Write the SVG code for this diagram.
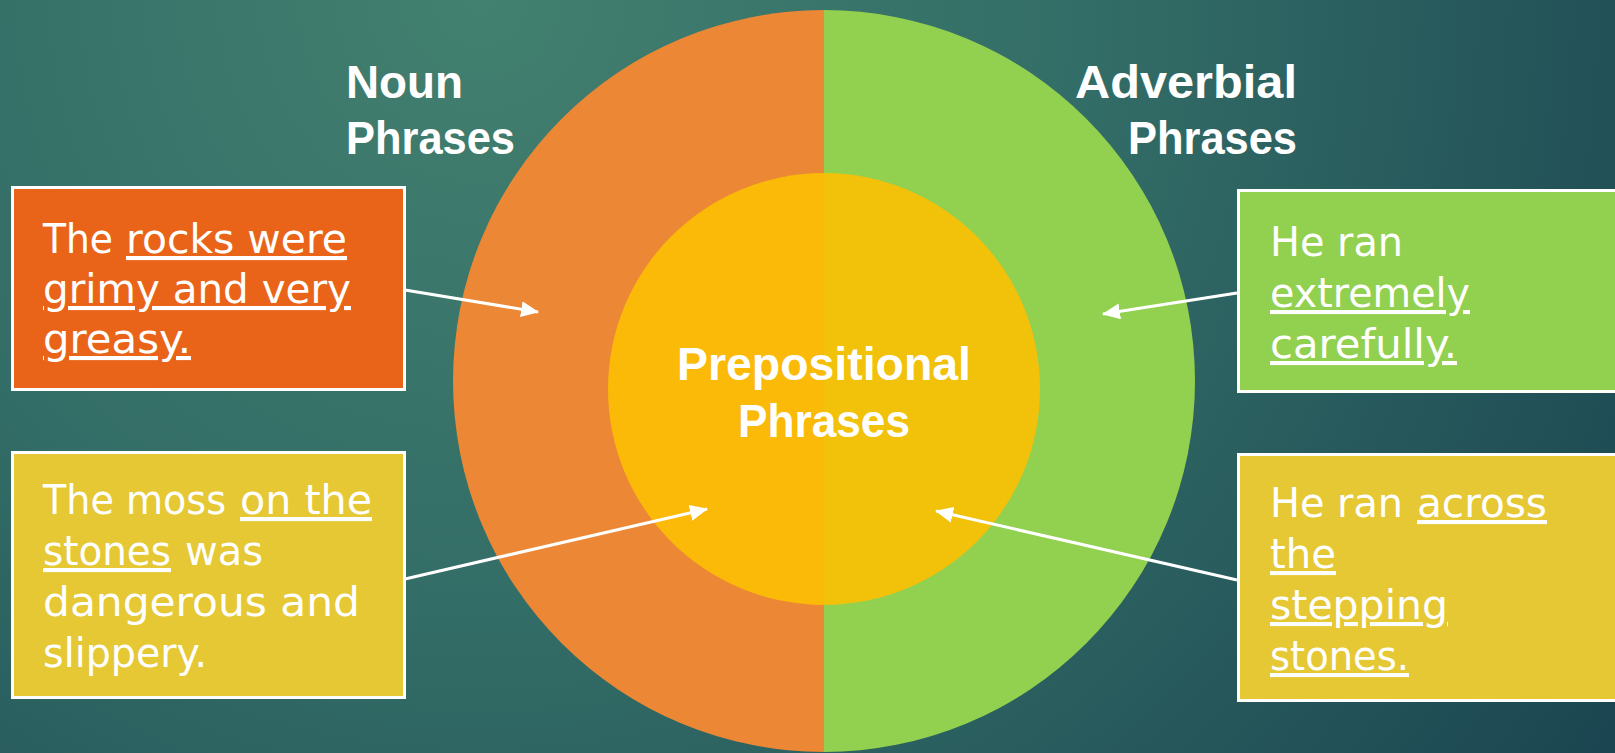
<svg xmlns="http://www.w3.org/2000/svg" width="1615" height="753" viewBox="0 0 1615 753">
  <defs>
    <radialGradient id="bg" cx="480" cy="0" r="1350" gradientUnits="userSpaceOnUse">
      <stop offset="0" stop-color="#42806F"/>
      <stop offset="0.45" stop-color="#336D67"/>
      <stop offset="1" stop-color="#1B4651"/>
    </radialGradient>
    <marker id="ah" markerUnits="userSpaceOnUse" markerWidth="20" markerHeight="18" refX="17" refY="8" orient="auto">
      <path d="M0,0 L18,8 L0,16 Z" fill="#FFFFFF"/>
    </marker>
    <style>
      .box { stroke: #FFFFFF; stroke-width: 3; }
      .body { font-family: "DejaVu Sans", "Liberation Sans", sans-serif; font-size: 41px; fill: #FFFFFF; }
      .u { text-decoration: underline; text-decoration-skip-ink: none; text-underline-offset: 6px; }
      .head { font-family: "Liberation Sans", Arial, sans-serif; font-weight: bold; font-size: 46px; fill: #FFFFFF; }
      .conn { stroke: #FFFFFF; stroke-width: 3; fill: none; marker-end: url(#ah); }
    </style>
  </defs>

  <rect x="0" y="0" width="1615" height="753" fill="url(#bg)"/>

  <g id="outer-circle">
    <path d="M824,10 A371,371 0 0 0 824,752 Z" fill="#EB8735"/>
    <path d="M824,10 A371,371 0 0 1 824,752 Z" fill="#92D050"/>
  </g>

  <g id="inner-circle">
    <path d="M824,173 A216,216 0 0 0 824,605 Z" fill="#FBB908"/>
    <path d="M824,173 A216,216 0 0 1 824,605 Z" fill="#F2C10A"/>
    <text class="head" x="824" y="380" text-anchor="middle" font-size="48" textLength="294" lengthAdjust="spacingAndGlyphs">Prepositional</text>
    <text class="head" x="824" y="437" text-anchor="middle" font-size="48" textLength="172" lengthAdjust="spacingAndGlyphs">Phrases</text>
  </g>

  <g id="label-noun">
    <text class="head" x="346" y="98" textLength="117" lengthAdjust="spacingAndGlyphs">Noun</text>
    <text class="head" x="346" y="154" textLength="169" lengthAdjust="spacingAndGlyphs">Phrases</text>
  </g>

  <g id="label-adverbial">
    <text class="head" x="1075" y="98" textLength="222" lengthAdjust="spacingAndGlyphs">Adverbial</text>
    <text class="head" x="1128" y="154" textLength="169" lengthAdjust="spacingAndGlyphs">Phrases</text>
  </g>

  <g id="box-noun">
    <rect class="box" x="12.5" y="187.5" width="392" height="202" fill="#E96419"/>
    <text class="body" y="253"><tspan x="43" textLength="70" lengthAdjust="spacingAndGlyphs">The</tspan><tspan class="u" x="126" textLength="221" lengthAdjust="spacingAndGlyphs">rocks were</tspan></text>
    <text class="body" y="303"><tspan class="u" x="43" textLength="308" lengthAdjust="spacingAndGlyphs">grimy and very</tspan></text>
    <text class="body" y="353"><tspan class="u" x="43" textLength="148" lengthAdjust="spacingAndGlyphs">greasy.</tspan></text>
  </g>

  <g id="box-moss">
    <rect class="box" x="12.5" y="452.5" width="392" height="245" fill="#E5C834"/>
    <text class="body" y="514"><tspan x="43" textLength="183" lengthAdjust="spacingAndGlyphs">The moss</tspan><tspan class="u" x="240" textLength="132" lengthAdjust="spacingAndGlyphs">on the</tspan></text>
    <text class="body" y="565"><tspan class="u" x="43" textLength="128" lengthAdjust="spacingAndGlyphs">stones</tspan><tspan x="185" textLength="78" lengthAdjust="spacingAndGlyphs">was</tspan></text>
    <text class="body" y="616"><tspan x="43" textLength="317" lengthAdjust="spacingAndGlyphs">dangerous and</tspan></text>
    <text class="body" y="667"><tspan x="43" textLength="164" lengthAdjust="spacingAndGlyphs">slippery.</tspan></text>
  </g>

  <g id="box-adverbial">
    <rect class="box" x="1238.5" y="190.5" width="390" height="201" fill="#92D050"/>
    <text class="body" y="256"><tspan x="1270" textLength="133" lengthAdjust="spacingAndGlyphs">He ran</tspan></text>
    <text class="body" y="307"><tspan class="u" x="1270" textLength="200" lengthAdjust="spacingAndGlyphs">extremely</tspan></text>
    <text class="body" y="358"><tspan class="u" x="1270" textLength="187" lengthAdjust="spacingAndGlyphs">carefully.</tspan></text>
  </g>

  <g id="box-stones">
    <rect class="box" x="1238.5" y="454.5" width="390" height="246" fill="#E5C834"/>
    <text class="body" y="517"><tspan x="1270" textLength="133" lengthAdjust="spacingAndGlyphs">He ran</tspan><tspan class="u" x="1417" textLength="130" lengthAdjust="spacingAndGlyphs">across</tspan></text>
    <text class="body" y="568"><tspan class="u" x="1270" textLength="66" lengthAdjust="spacingAndGlyphs">the</tspan></text>
    <text class="body" y="619"><tspan class="u" x="1270" textLength="178" lengthAdjust="spacingAndGlyphs">stepping</tspan></text>
    <text class="body" y="670"><tspan class="u" x="1270" textLength="139" lengthAdjust="spacingAndGlyphs">stones.</tspan></text>
  </g>

  <g id="connectors">
    <line class="conn" x1="405" y1="290" x2="538" y2="312"/>
    <line class="conn" x1="405" y1="579" x2="707" y2="509"/>
    <line class="conn" x1="1237" y1="293" x2="1103" y2="314"/>
    <line class="conn" x1="1237" y1="580" x2="936" y2="511"/>
  </g>
</svg>
